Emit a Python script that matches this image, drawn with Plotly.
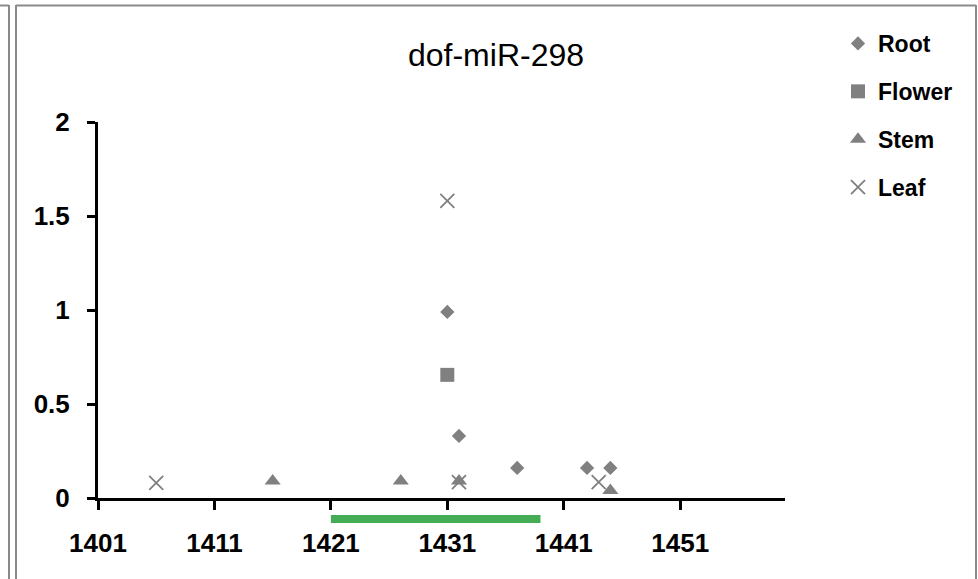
import plotly.graph_objects as go

# Sequence positions and normalised read abundance per tissue
root_pos = [1431, 1432, 1437, 1443, 1445]
root_val = [0.99, 0.33, 0.16, 0.16, 0.16]

flower_pos = [1431]
flower_val = [0.655]

stem_pos = [1416, 1427, 1432, 1445]
stem_val = [0.09, 0.09, 0.09, 0.04]

leaf_pos = [1406, 1431, 1432, 1444]
leaf_val = [0.08, 1.58, 0.085, 0.085]

# Mature miRNA span drawn under the axis
mature_span = [1421, 1439]

x_ticks = [1401, 1411, 1421, 1431, 1441, 1451]
y_ticks = [0, 0.5, 1, 1.5, 2]
y_tick_text = ["0", "0.5", "1", "1.5", "2"]

W, H = 978, 579
L, R, T, B = 98, 193, 122, 81
plot_w = W - L - R
plot_h = H - T - B

def px_x(px):
    return (px - L) / plot_w

def px_y(py):
    return (H - B - py) / plot_h

GRAY = "#808080"
FONT = "Liberation Sans, Arial, sans-serif"

fig = go.Figure()
fig.add_trace(go.Scatter(x=root_pos, y=root_val, mode="markers", name="Root",
                         legendgroup="root",
                         marker=dict(symbol="diamond", size=11, color=GRAY)))
fig.add_trace(go.Scatter(x=flower_pos, y=flower_val, mode="markers", name="Flower",
                         legendgroup="flower",
                         marker=dict(symbol="square", size=14, color=GRAY)))
fig.add_trace(go.Scatter(x=stem_pos, y=stem_val, mode="markers", name="Stem",
                         legendgroup="stem",
                         marker=dict(symbol="triangle-up", size=14, color=GRAY)))
fig.add_trace(go.Scatter(x=leaf_pos, y=leaf_val, mode="markers", name="Leaf",
                         legendgroup="leaf",
                         marker=dict(symbol="x-thin", size=14,
                                     line=dict(color=GRAY, width=1.8))))

shapes = [
    # mature region bar
    dict(type="line", xref="x", yref="paper",
         x0=mature_span[0], x1=mature_span[1],
         y0=px_y(519), y1=px_y(519),
         line=dict(color="#44AC54", width=8)),
    # chart frame
    dict(type="line", xref="paper", yref="paper",
         x0=px_x(16), x1=px_x(16), y0=px_y(5), y1=px_y(H),
         line=dict(color="#8a8a8a", width=2)),
    dict(type="line", xref="paper", yref="paper",
         x0=px_x(16), x1=px_x(976), y0=px_y(5.5), y1=px_y(5.5),
         line=dict(color="#8a8a8a", width=2)),
    dict(type="line", xref="paper", yref="paper",
         x0=px_x(976), x1=px_x(976), y0=px_y(5), y1=px_y(H),
         line=dict(color="#8a8a8a", width=2)),
    # neighbouring frame edge
    dict(type="line", xref="paper", yref="paper",
         x0=px_x(9), x1=px_x(9), y0=px_y(5), y1=px_y(H),
         line=dict(color="#8a8a8a", width=2)),
    dict(type="line", xref="paper", yref="paper",
         x0=px_x(0), x1=px_x(9), y0=px_y(5.5), y1=px_y(5.5),
         line=dict(color="#8a8a8a", width=2)),
]

fig.update_layout(
    width=W, height=H,
    margin=dict(l=L, r=R, t=T, b=B),
    paper_bgcolor="white", plot_bgcolor="white",
    font=dict(family=FONT, color="black"),
    title=dict(text="dof-miR-298", x=496 / W, xref="container", xanchor="center",
               y=1 - 55 / H, yref="container", yanchor="middle",
               font=dict(size=32, family=FONT, color="black")),
    showlegend=True,
    legend=dict(x=px_x(838), xanchor="left", y=px_y(22), yanchor="top",
                font=dict(size=23, family=FONT, color="black", weight="bold"),
                tracegroupgap=15, bgcolor="rgba(0,0,0,0)", borderwidth=0),
    shapes=shapes,
)

fig.update_xaxes(range=[1401, 1460], tickvals=x_ticks, ticktext=[str(v) for v in x_ticks],
                 showgrid=False, zeroline=False, showline=True, linecolor="black", linewidth=3,
                 ticks="outside", ticklen=9, tickwidth=3, tickcolor="black",
                 ticklabelstandoff=11,
                 tickfont=dict(size=26, family=FONT, color="black", weight="bold"))
fig.update_yaxes(range=[0, 2], tickvals=y_ticks, ticktext=y_tick_text,
                 showgrid=False, zeroline=False, showline=True, linecolor="black", linewidth=3,
                 ticks="outside", ticklen=8, tickwidth=3, tickcolor="black",
                 ticklabelstandoff=12,
                 tickfont=dict(size=26, family=FONT, color="black", weight="bold"))

fig.write_html("out.html")
